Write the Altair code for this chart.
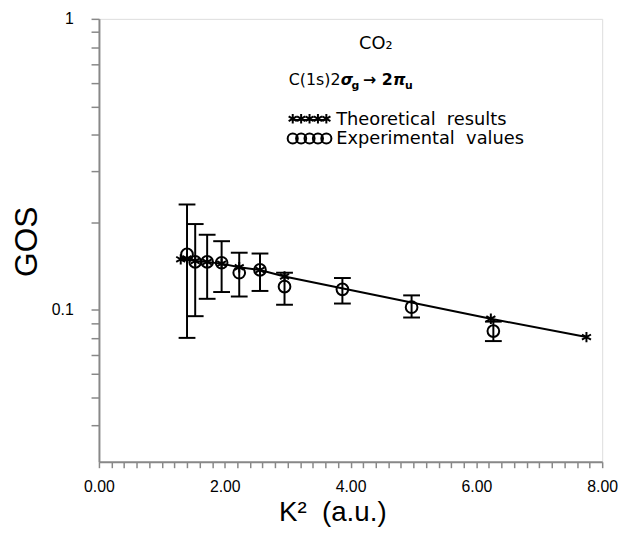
import altair as alt
import pandas as pd

# ---- data ----
theory_k2 = [1.30, 1.40, 1.53, 1.72, 1.95, 2.23, 2.56, 2.95, 6.23, 7.75]
theory_gos = [0.149, 0.150, 0.147, 0.146, 0.144, 0.140, 0.137, 0.130, 0.0931, 0.0805]

exp_k2 = [1.40, 1.53, 1.72, 1.95, 2.23, 2.56, 2.95, 3.87, 4.97, 6.27]
exp_gos = [0.155, 0.146, 0.146, 0.145, 0.134, 0.137, 0.120, 0.1175, 0.102, 0.0844]
exp_hi = [0.230, 0.197, 0.181, 0.172, 0.157, 0.156, 0.134, 0.1285, 0.112, 0.091]
exp_lo = [0.080, 0.095, 0.109, 0.115, 0.111, 0.116, 0.104, 0.105, 0.094, 0.078]

x_labels = ["0.00", "2.00", "4.00", "6.00", "8.00"]
y_labels = ["0.1", "1"]
x_tick_values = [round(i * 0.2, 1) for i in range(41)]
y_tick_values = [0.04, 0.05, 0.06, 0.07, 0.08, 0.09, 0.1,
                 0.2, 0.3, 0.4, 0.5, 0.6, 0.7, 0.8, 0.9, 1.0]

theory = pd.DataFrame({"k2": theory_k2, "gos": theory_gos})
exp = pd.DataFrame({"k2": exp_k2, "gos": exp_gos, "hi": exp_hi, "lo": exp_lo})

FONT = "DejaVu Sans"
NB = "\u00a0"
ASTERISK = "M0,-1L0,1M-0.87,-0.5L0.87,0.5M-0.87,0.5L0.87,-0.5"

xscale = alt.Scale(domain=[0, 8], nice=False, zero=False)
yscale = alt.Scale(type="log", domain=[0.03, 1], nice=False)

xlab_expr = ("round(datum.value*10) % 20 == 0 ? "
             "['" + "','".join(x_labels) + "'][round(datum.value/2)] : ''")
ylab_expr = ("abs(datum.value-1) < 1e-6 ? '" + y_labels[1] + "' : "
             "(abs(datum.value-0.1) < 1e-6 ? '" + y_labels[0] + "' : '')")

xaxis = alt.Axis(values=x_tick_values, labelExpr=xlab_expr, labelOverlap=False,
                 title="K²" + NB + NB + "(a.u.)", titleFontSize=28, titleFontWeight="normal",
                 titleX=236, titleY=59, titleBaseline="alphabetic", titleAlign="center",
                 labelFontSize=16, labelPadding=11, tickSize=6, tickWidth=1.5,
                 domainWidth=2, grid=False, labelFlush=False)
yaxis = alt.Axis(values=y_tick_values, labelExpr=ylab_expr, labelOverlap=False,
                 title="GOS", titleFontSize=32, titleFontWeight="normal",
                 titleX=-63, titleY=225, titleAngle=270, titleBaseline="alphabetic",
                 titleAlign="center",
                 labelFontSize=16, labelPadding=18, tickSize=8, tickWidth=1.5,
                 domainWidth=2, grid=False)

X = alt.X("k2:Q", scale=xscale, axis=xaxis)
Y = alt.Y("gos:Q", scale=yscale, axis=yaxis)

line = alt.Chart(theory).mark_line(color="black", strokeWidth=2).encode(x=X, y=Y)
stars = alt.Chart(theory).mark_point(shape=ASTERISK, size=110, filled=False,
                                     color="black", strokeWidth=2, opacity=1).encode(x=X, y=Y)

err = alt.Chart(exp).mark_rule(color="black", strokeWidth=2).encode(
    x=X, y=alt.Y("lo:Q", scale=yscale, axis=yaxis), y2="hi:Q")
cap_hi = alt.Chart(exp).mark_tick(orient="horizontal", color="black", size=17,
                                  thickness=2, opacity=1).encode(
    x=X, y=alt.Y("hi:Q", scale=yscale, axis=yaxis))
cap_lo = alt.Chart(exp).mark_tick(orient="horizontal", color="black", size=17,
                                  thickness=2, opacity=1).encode(
    x=X, y=alt.Y("lo:Q", scale=yscale, axis=yaxis))
circles = alt.Chart(exp).mark_point(shape="circle", size=140, filled=False,
                                    color="black", strokeWidth=2, opacity=1).encode(x=X, y=Y)

one = pd.DataFrame({"a": [0]})


def txt(s, x, y, size=16, align="left", baseline="alphabetic", weight="normal", style="normal"):
    return alt.Chart(one).mark_text(text=s, font=FONT, fontSize=size, align=align,
                                    baseline=baseline, fontWeight=weight, fontStyle=style,
                                    color="black").encode(x=alt.value(x), y=alt.value(y))


texts = [
    txt("CO₂", 280, 30, size=18, align="center"),
    txt("C(1s)2", 192, 67),
    txt("σ", 244.5, 67, weight="bold", style="italic"),
    txt("g", 255.5, 71, size=11, weight="bold"),
    txt("→", 267, 67, weight="bold"),
    txt("2", 286, 67, weight="bold"),
    txt("π", 297.5, 67, weight="bold", style="italic"),
    txt("u", 309.5, 71, size=11, weight="bold"),
    txt("Theoretical" + NB + NB + "results", 240, 107, size=18),
    txt("Experimental" + NB + NB + "values", 240, 127, size=18),
]

legend_marks = []
for i in range(5):
    legend_marks.append(
        alt.Chart(one).mark_point(shape=ASTERISK, size=90, filled=False, color="black",
                                  strokeWidth=2, opacity=1)
        .encode(x=alt.value(196 + 8.5 * i), y=alt.value(101)))
    legend_marks.append(
        alt.Chart(one).mark_point(shape="circle", size=105, filled=False, color="black",
                                  strokeWidth=2, opacity=1)
        .encode(x=alt.value(196 + 8.5 * i), y=alt.value(121)))
legend_marks.append(
    alt.Chart(one).mark_rule(color="black", strokeWidth=1.5)
    .encode(x=alt.value(196), x2=alt.value(230), y=alt.value(102)))

chart = alt.layer(line, err, cap_hi, cap_lo, circles, stars, *texts, *legend_marks).properties(
    width=509, height=448,
    autosize=alt.AutoSizeParams(type="none"),
    padding={"left": 92, "top": 8, "right": 16, "bottom": 63},
).configure_view(stroke=None).configure_axis(
    domainColor="black", tickColor="black", labelColor="black", titleColor="black",
    labelFont=FONT, titleFont=FONT,
).configure(background="white")

chart.save("out.html", embed_options={"renderer": "svg", "actions": False})
